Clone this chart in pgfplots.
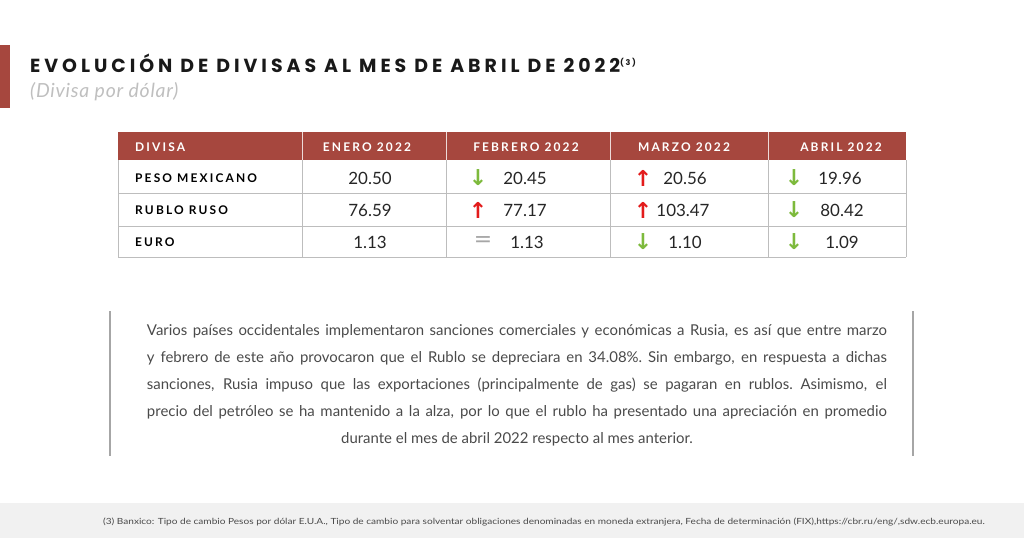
\documentclass[border=0pt]{standalone}
\usepackage{pgfplots}
\pgfplotsset{compat=1.18}
\usepackage{pgfplotstable}
\usepackage{graphicx}
\usepackage{fontspec}
\setmainfont{Lato}
\newfontfamily\titlefont[LetterSpace=21]{Poppins}
\newfontfamily\capsfont[LetterSpace=18]{Lato}
\newfontfamily\subfont[LetterSpace=4]{Lato}
\newfontfamily\symfont{DejaVu Sans}
\definecolor{brick}{HTML}{A6473E}
\definecolor{gridgray}{HTML}{BDBDBD}
\definecolor{txtgray}{HTML}{4A4A4A}
\definecolor{upred}{HTML}{E31B1B}
\definecolor{downgreen}{HTML}{7DBA3C}
\definecolor{footbg}{HTML}{F1F1F1}

\pgfplotstableread[col sep=comma]{
x,y,v
370,178,20.50
370,210,76.59
370,242,1.13
525,178,20.45
525,210,77.17
527,242,1.13
685,178,20.56
683,210,103.47
685,242,1.10
840,178,19.96
842,210,80.42
842,242,1.09
}\valores

\pgfplotstableread[col sep=comma]{
x,y
478,178
643,242
794,178
794,210
794,242
}\bajas

\pgfplotstableread[col sep=comma]{
x,y
478,210
643,178
643,210
}\subidas

\pgfplotstableread[col sep=comma]{
x,y
483,242
}\iguales

\pgfplotstableread[col sep=comma]{
x,y,v
135,178,PESO MEXICANO
135,210,RUBLO RUSO
135,242,EURO
}\filas

\pgfplotstableread[col sep=comma]{
x,y,v
367,147,ENERO 2022
526,147,FEBRERO 2022
684,147,MARZO 2022
841,147,ABRIL 2022
}\meses

\begin{document}
\begin{tikzpicture}
\begin{axis}[
  width=1024bp, height=538bp, scale only axis,
  xmin=0, xmax=1024, ymin=0, ymax=538, y dir=reverse,
  hide axis, clip=false,
]
% background and decorations
\fill[white] (axis cs:0,0) rectangle (axis cs:1024,538);
\fill[footbg] (axis cs:0,503) rectangle (axis cs:1024,538);
\fill[brick] (axis cs:0,45) rectangle (axis cs:10,108);
\fill[brick] (axis cs:118,132) rectangle (axis cs:906,160);
% table grid
\pgfplotsinvokeforeach{193,226,257}{\draw[gridgray, line width=1bp] (axis cs:118,#1) -- (axis cs:906,#1);}
\draw[gridgray, line width=1bp] (axis cs:118,160) -- (axis cs:118,257);
\draw[gridgray, line width=1bp] (axis cs:906,160) -- (axis cs:906,257);
\pgfplotsinvokeforeach{302,446,610,768}{
  \draw[gridgray, line width=1bp] (axis cs:#1,160) -- (axis cs:#1,257);
  \draw[white!80!brick, line width=0.8bp] (axis cs:#1,132) -- (axis cs:#1,160);}
% paragraph bars
\draw[gray!70, line width=2bp] (axis cs:110,311) -- (axis cs:110,456);
\draw[gray!70, line width=2bp] (axis cs:913,311) -- (axis cs:913,456);

% title
\node[anchor=base west, inner sep=0pt, text=black!90, font=\titlefont\fontsize{19}{22}\selectfont\bfseries] at (axis cs:30,73)
  {EVOLUCIÓN DE DIVISAS AL MES DE ABRIL DE 2022\raisebox{7bp}{\fontsize{8}{9}\selectfont(3)}};
\node[anchor=base west, inner sep=0pt, text=gray!50, font=\subfont\fontsize{19.5}{22}\selectfont\itshape] at (axis cs:30,97)
  {(Divisa por dólar)};

% header texts
\addplot[draw=none, mark=none, point meta=explicit symbolic,
  nodes near coords, nodes near coords style={anchor=center, text=white, font=\capsfont\fontsize{12}{14}\selectfont\bfseries}]
  table[x=x, y=y, meta=v] {\meses};
\addplot[draw=none, mark=none, point meta=explicit symbolic,
  nodes near coords, nodes near coords style={anchor=west, inner sep=0pt, text=white, font=\capsfont\fontsize{12}{14}\selectfont\bfseries}]
  coordinates {(135,147) [DIVISA]};
% row labels
\addplot[draw=none, mark=none, point meta=explicit symbolic,
  nodes near coords, nodes near coords style={anchor=west, inner sep=0pt, text=black, font=\capsfont\fontsize{12}{14}\selectfont\bfseries}]
  table[x=x, y=y, meta=v] {\filas};
% values
\addplot[draw=none, mark=none, point meta=explicit symbolic,
  nodes near coords, nodes near coords style={anchor=center, text=black!85, font=\fontsize{17}{20}\selectfont}]
  table[x=x, y=y, meta=v] {\valores};
% arrows
\addplot[draw=none, mark=none,
  nodes near coords={\symfont\bfseries ↓}, nodes near coords style={anchor=center, text=downgreen, font=\fontsize{22}{24}\selectfont}]
  table[x=x, y=y] {\bajas};
\addplot[draw=none, mark=none,
  nodes near coords={\symfont\bfseries ↑}, nodes near coords style={anchor=center, text=upred, font=\fontsize{22}{24}\selectfont}]
  table[x=x, y=y] {\subidas};
\addplot[draw=none, mark=none,
  nodes near coords={\symfont =}, nodes near coords style={anchor=center, text=gray!70, font=\fontsize{22}{24}\selectfont}]
  table[x=x, y=y] {\iguales};

% paragraph
\begin{scope}[every node/.style={inner sep=0pt, text=txtgray, font=\fontsize{15}{18}\selectfont}]
\node[anchor=base] at (axis cs:517,335) {\makebox[740bp][s]{Varios países occidentales implementaron sanciones comerciales y económicas a Rusia, es así que entre marzo}};
\node[anchor=base] at (axis cs:517,362) {\makebox[740bp][s]{y febrero de este año provocaron que el Rublo se depreciara en 34.08\%.\ Sin embargo, en respuesta a dichas}};
\node[anchor=base] at (axis cs:517,389) {\makebox[740bp][s]{sanciones, Rusia impuso que las exportaciones (principalmente de gas) se pagaran en rublos.\ Asimismo, el}};
\node[anchor=base] at (axis cs:517,416) {\makebox[740bp][s]{precio del petróleo se ha mantenido a la alza, por lo que el rublo ha presentado una apreciación en promedio}};
\node[anchor=base] at (axis cs:517,443) {durante el mes de abril 2022 respecto al mes anterior.};
\end{scope}

% footer
\node[anchor=base east, inner sep=0pt, text=txtgray, font=\fontsize{8.5}{9}\selectfont] at (axis cs:985,524)
  {\scalebox{1.19}[1]{(3) Banxico: Tipo de cambio Pesos por dólar E.U.A., Tipo de cambio para solventar obligaciones denominadas en moneda extranjera, Fecha de determinación (FIX),https://cbr.ru/eng/,sdw.ecb.europa.eu.}};
\end{axis}
\end{tikzpicture}
\end{document}
